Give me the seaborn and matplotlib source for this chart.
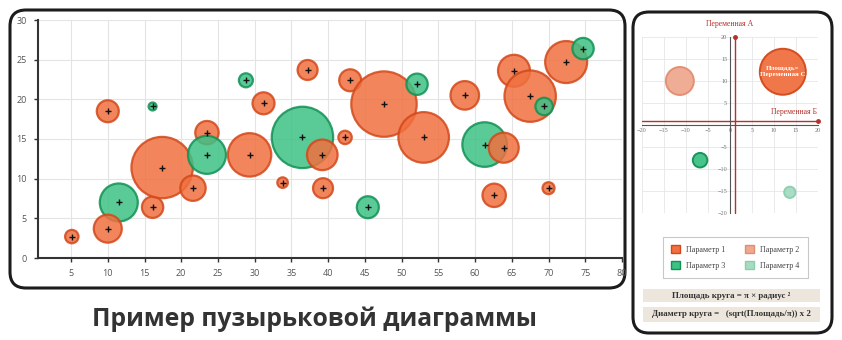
import matplotlib
matplotlib.use("Agg")
import matplotlib.pyplot as plt
import numpy as np
import pandas as pd
import seaborn as sns
from matplotlib.patches import FancyBboxPatch, Patch, Rectangle

# ---- main bubble chart data -------------------------------------------
x_vals = [5.1, 11.5, 10.0, 10.0, 16.1, 16.1, 17.4, 21.6, 23.5, 23.5,
          28.8, 31.2, 29.3, 33.8, 37.2, 36.5, 39.2, 39.3, 42.3, 43.0,
          47.6, 52.1, 45.4, 53.0, 58.6, 61.3, 63.9, 62.6, 65.3, 67.5,
          69.4, 70.0, 72.4, 74.7]
y_vals = [2.7, 7.0, 3.7, 18.5, 19.1, 6.4, 11.4, 8.8, 15.8, 13.0,
          22.4, 19.5, 13.0, 9.5, 23.7, 15.2, 13.0, 8.8, 15.2, 22.4,
          19.4, 21.9, 6.4, 15.2, 20.5, 14.3, 13.9, 7.9, 23.6, 20.4,
          19.1, 8.8, 24.7, 26.4]
# bubble area (Переменная С)
c_vals = [45, 361, 196, 121, 16, 114, 942, 161, 137, 361,
          49, 121, 471, 28, 100, 942, 234, 100, 45, 121,
          1069, 114, 121, 640, 204, 497, 225, 137, 256, 660,
          76, 36, 441, 114]
series = ["Параметр 1", "Параметр 3", "Параметр 1", "Параметр 1", "Параметр 3",
          "Параметр 1", "Параметр 1", "Параметр 1", "Параметр 1", "Параметр 3",
          "Параметр 3", "Параметр 1", "Параметр 1", "Параметр 1", "Параметр 1",
          "Параметр 3", "Параметр 1", "Параметр 1", "Параметр 1", "Параметр 1",
          "Параметр 1", "Параметр 3", "Параметр 3", "Параметр 1", "Параметр 1",
          "Параметр 3", "Параметр 1", "Параметр 1", "Параметр 1", "Параметр 1",
          "Параметр 3", "Параметр 1", "Параметр 1", "Параметр 3"]
x_ticks = list(range(5, 81, 5))
y_ticks = list(range(0, 31, 5))

# ---- quadrant explanation chart data ----------------------------------
params = ["Параметр 1", "Параметр 2", "Параметр 3", "Параметр 4"]
quad_x = [12.0, -11.4, -6.8, 13.6]
quad_y = [12.1, 10.0, -8.0, -15.3]
quad_c = [529, 196, 53, 32]
quad_ticks = [-20, -15, -10, -5, 0, 5, 10, 15, 20]

title = "Пример пузырьковой диаграммы"
formula_area = "Площадь круга = π × радиус ²"
formula_diam = "Диаметр круга =   (sqrt(Площадь/π)) x 2"

face = {"Параметр 1": "#F0703F", "Параметр 2": "#F0A98F",
        "Параметр 3": "#3DC185", "Параметр 4": "#A7DCC3"}
edge = {"Параметр 1": "#D3481A", "Параметр 2": "#E28D72",
        "Параметр 3": "#129155", "Параметр 4": "#8CCDB0"}

sns.set_style("white")
plt.rcParams["font.family"] = ["Open Sans", "DejaVu Sans"]

W, H = 842, 340
fig = plt.figure(figsize=(W / 100, H / 100), dpi=100)

# pixel-space backdrop for frames and formula bands
bg = fig.add_axes([0, 0, 1, 1], zorder=0)
bg.set_xlim(0, W)
bg.set_ylim(H, 0)
bg.axis("off")
bg.add_patch(FancyBboxPatch((10, 10), 615, 278,
                            boxstyle="round,pad=0,rounding_size=16",
                            fc="white", ec="#1c1c1c", lw=2.2))
bg.add_patch(FancyBboxPatch((633, 12), 199, 321,
                            boxstyle="round,pad=0,rounding_size=16",
                            fc="white", ec="#1c1c1c", lw=2.2))

# ---- main chart -------------------------------------------------------
K = (2 * 0.72) ** 2  # px radius^2 -> marker area in pt^2
ax = fig.add_axes([38 / W, 1 - 258 / H, (622 - 38) / W, (258 - 20) / H], zorder=1)
df = pd.DataFrame({"x": x_vals, "y": y_vals, "c": c_vals, "series": series})
cmax = max(c_vals)
sns.scatterplot(data=df, x="x", y="y", hue="series", palette=face,
                size="c", sizes=(0, K * cmax), size_norm=(0, cmax),
                alpha=0.85, linewidth=1.6, legend=False, ax=ax)
ax.collections[0].set_edgecolor([edge[s] for s in series])
sns.scatterplot(data=df, x="x", y="y", marker="+", color="#111111",
                s=22, linewidth=1.0, legend=False, ax=ax)

ax.set_xlim(0.5, 80)
ax.set_ylim(0, 30)
ax.set_xticks(x_ticks)
ax.set_yticks(y_ticks)
ax.set_xlabel("")
ax.set_ylabel("")
ax.grid(True, color="#E4E4E4", lw=0.8)
ax.set_axisbelow(True)
for side in ("top", "right"):
    ax.spines[side].set_visible(False)
for side in ("left", "bottom"):
    ax.spines[side].set_color("#333333")
    ax.spines[side].set_linewidth(1.5)
ax.tick_params(length=3, width=1, color="#333333", labelsize=6.5,
               labelcolor="#555555", pad=5, left=True, bottom=True)

fig.text(315 / W, 1 - 319 / H, title, ha="center", va="center",
         fontsize=17.8, fontweight="bold", color="#333333")

# ---- quadrant chart ---------------------------------------------------
serif = ["Liberation Serif", "DejaVu Serif"]
aq = fig.add_axes([642 / W, 1 - 213 / H, (818 - 642) / W, (213 - 37) / H], zorder=1)
dq = pd.DataFrame({"x": quad_x, "y": quad_y, "c": quad_c, "p": params})
sns.scatterplot(data=dq, x="x", y="y", hue="p", palette=face,
                size="c", sizes=(0, K * cmax), size_norm=(0, cmax),
                alpha=0.95, linewidth=1.4, legend=False, ax=aq)
aq.collections[0].set_edgecolor([edge[p] for p in params])
aq.set_xlim(-20, 20)
aq.set_ylim(-20, 20)
aq.set_xticks(quad_ticks)
aq.set_yticks([t for t in quad_ticks if t != 0])
aq.set_xlabel("")
aq.set_ylabel("")
aq.grid(True, color="#E6E6E6", lw=0.6)
aq.set_axisbelow(True)
aq.spines["left"].set_position("zero")
aq.spines["bottom"].set_position("zero")
for side in ("top", "right"):
    aq.spines[side].set_visible(False)
for side in ("left", "bottom"):
    aq.spines[side].set_color("#555555")
    aq.spines[side].set_linewidth(0.8)
aq.tick_params(length=0, labelsize=4.5, labelcolor="#777777", pad=2)
for lab in aq.get_xticklabels() + aq.get_yticklabels():
    lab.set_family(serif)

red = "#B5312B"
aq.plot([1.1, 1.1], [-20, 20], color=red, lw=1.0, clip_on=False)
aq.plot([1.1], [20], marker="o", ms=2.5, color=red, clip_on=False)
aq.plot([-20, 20], [0.8, 0.8], color=red, lw=1.0, clip_on=False)
aq.plot([20], [0.8], marker="o", ms=2.5, color=red, clip_on=False)
aq.text(0, 23.0, "Переменная А", color=red, fontsize=5.6, family=serif,
        ha="center", va="center", clip_on=False)
aq.text(14.5, 3.0, "Переменная Б", color=red, fontsize=5.6, family=serif,
        ha="center", va="center")
aq.text(quad_x[0], quad_y[0], "Площадь=\nПеременная С", color="white",
        fontsize=5.0, family=serif, fontweight="bold", ha="center", va="center",
        linespacing=1.15)

# two-column legend, filled row by row
order = [0, 2, 1, 3]
handles = [Patch(facecolor=face[params[i]], edgecolor=edge[params[i]], lw=1)
           for i in order]
leg = fig.legend(handles=handles, labels=[params[i] for i in order], ncol=2,
                 loc="upper left", bbox_to_anchor=(659 / W, 1 - 233 / H),
                 frameon=True, prop={"family": serif, "size": 5.8},
                 handlelength=1.1, handleheight=1.1, columnspacing=2.4,
                 borderpad=1.0, labelspacing=0.9, fancybox=False)
leg.get_frame().set_edgecolor("#BBBBBB")
leg.get_frame().set_linewidth(0.8)
for t in leg.get_texts():
    t.set_color("#444444")

bg.add_patch(Rectangle((643, 289), 177, 13, fc="#ECE6DC", ec="none"))
bg.add_patch(Rectangle((643, 307), 177, 15, fc="#ECE6DC", ec="none"))
bg.text(731.5, 295.5, formula_area, ha="center", va="center", fontsize=6.4,
        fontweight="bold", family=serif, color="#333333")
bg.text(731.5, 314.5, formula_diam, ha="center", va="center", fontsize=6.4,
        fontweight="bold", family=serif, color="#333333")

fig.savefig("out.png", dpi=100, facecolor="white")
